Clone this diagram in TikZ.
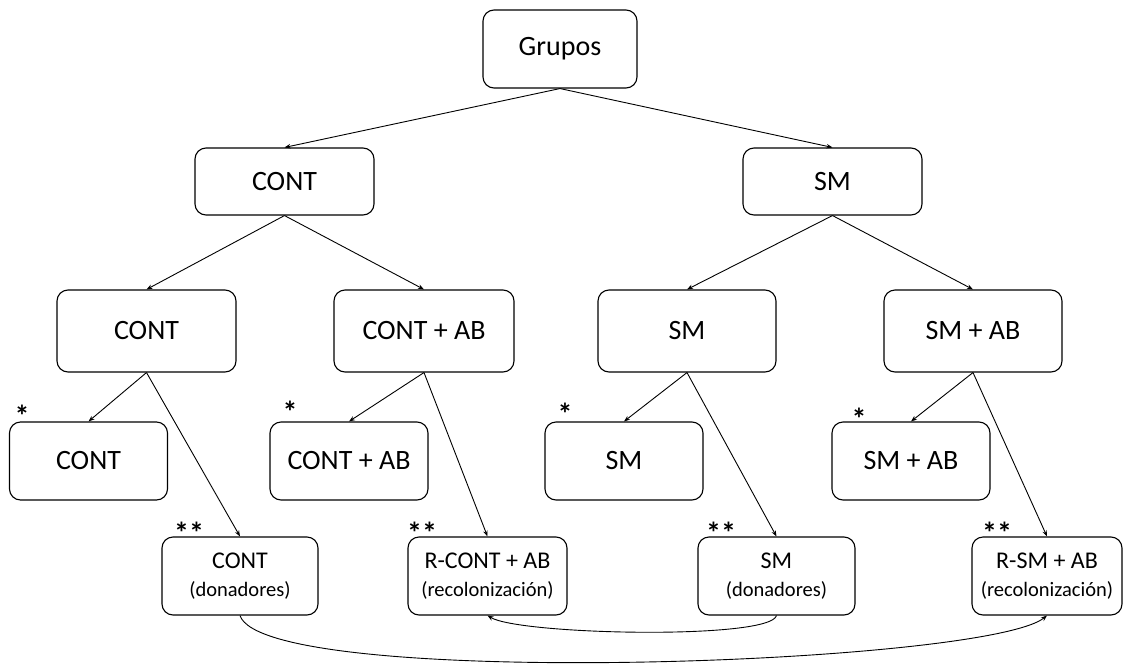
\documentclass[tikz,border=0pt]{standalone}
\usepackage{fontspec}
\setmainfont{Carlito}
\usetikzlibrary{arrows.meta}

\begin{document}
\begin{tikzpicture}[
    x=1pt, y=-1pt,
    >={Stealth[length=6pt,width=4.5pt]},
    gbox/.style={draw, rounded corners=11pt, line width=1.1pt, inner sep=0pt,
                 font=\fontsize{28}{32}\selectfont},
    dbox/.style={gbox, align=center, font=\fontsize{20.5}{28}\selectfont},
    star/.style={inner sep=0pt, anchor=base, font=\fontsize{30}{32}\selectfont\bfseries},
    link/.style={->, line width=0.9pt}
  ]
  \useasboundingbox (0,0) rectangle (1128,667);

  % top levels
  \node[gbox, minimum width=154pt, minimum height=78pt] (grupos) at (560,49) {Grupos};
  \node[gbox, minimum width=179pt, minimum height=67pt] (cont) at (284.5,181.5) {CONT};
  \node[gbox, minimum width=179pt, minimum height=67pt] (sm) at (832.5,181.5) {SM};

  \node[gbox, minimum width=179pt, minimum height=82pt] (cont-a) at (146.5,331) {CONT};
  \node[gbox, minimum width=180pt, minimum height=82pt] (contab-a) at (424,331) {CONT + AB};
  \node[gbox, minimum width=178pt, minimum height=82pt] (sm-a) at (687,331) {SM};
  \node[gbox, minimum width=178pt, minimum height=82pt] (smab-a) at (973,331) {SM + AB};

  % third level (*)
  \node[gbox, minimum width=158pt, minimum height=78pt] (cont-b) at (88.5,461) {CONT};
  \node[gbox, minimum width=158pt, minimum height=78pt] (contab-b) at (349,461) {CONT + AB};
  \node[gbox, minimum width=158pt, minimum height=78pt] (sm-b) at (624,461) {SM};
  \node[gbox, minimum width=158pt, minimum height=78pt] (smab-b) at (911,461) {SM + AB};

  % fourth level (**)
  \node[dbox, minimum width=156pt, minimum height=78pt] (cont-don) at (240,576)
    {{\fontsize{24}{28}\selectfont CONT}\\(donadores)};
  \node[dbox, minimum width=159pt, minimum height=78pt] (rcont) at (487.5,576)
    {{\fontsize{24}{28}\selectfont R-CONT + AB}\\(recolonización)};
  \node[dbox, minimum width=157pt, minimum height=78pt] (sm-don) at (776.5,576)
    {{\fontsize{24}{28}\selectfont SM}\\(donadores)};
  \node[dbox, minimum width=150pt, minimum height=78pt] (rsm) at (1047,576)
    {{\fontsize{24}{28}\selectfont R-SM + AB}\\(recolonización)};

  % marks
  \node[star] (s1) at (22,426) {*};
  \node[star] (s2) at (290,422) {*};
  \node[star] (s3) at (565,424) {*};
  \node[star] (s4) at (859,429) {*};
  \node[star] (d1) at (189,543) {**};
  \node[star] (d2) at (422,543) {**};
  \node[star] (d3) at (721,543) {**};
  \node[star] (d4) at (997,543) {**};

  % tree
  \draw[link] (grupos.south) -- (cont.north);
  \draw[link] (grupos.south) -- (sm.north);
  \draw[link] (cont.south) -- (cont-a.north);
  \draw[link] (cont.south) -- (contab-a.north);
  \draw[link] (sm.south) -- (sm-a.north);
  \draw[link] (sm.south) -- (smab-a.north);
  \draw[link] (cont-a.south) -- (cont-b.north);
  \draw[link] (cont-a.south) -- (cont-don.north);
  \draw[link] (contab-a.south) -- (contab-b.north);
  \draw[link] (contab-a.south) -- (rcont.north);
  \draw[link] (sm-a.south) -- (sm-b.north);
  \draw[link] (sm-a.south) -- (sm-don.north);
  \draw[link] (smab-a.south) -- (smab-b.north);
  \draw[link] (smab-a.south) -- (rsm.north);

  % donors to recolonised groups
  \draw[link] (cont-don.south) .. controls (265,690) and (985,665) .. (rsm.south);
  \draw[link] (sm-don.south) .. controls (770,640) and (520,635) .. (rcont.south);
\end{tikzpicture}
\end{document}
